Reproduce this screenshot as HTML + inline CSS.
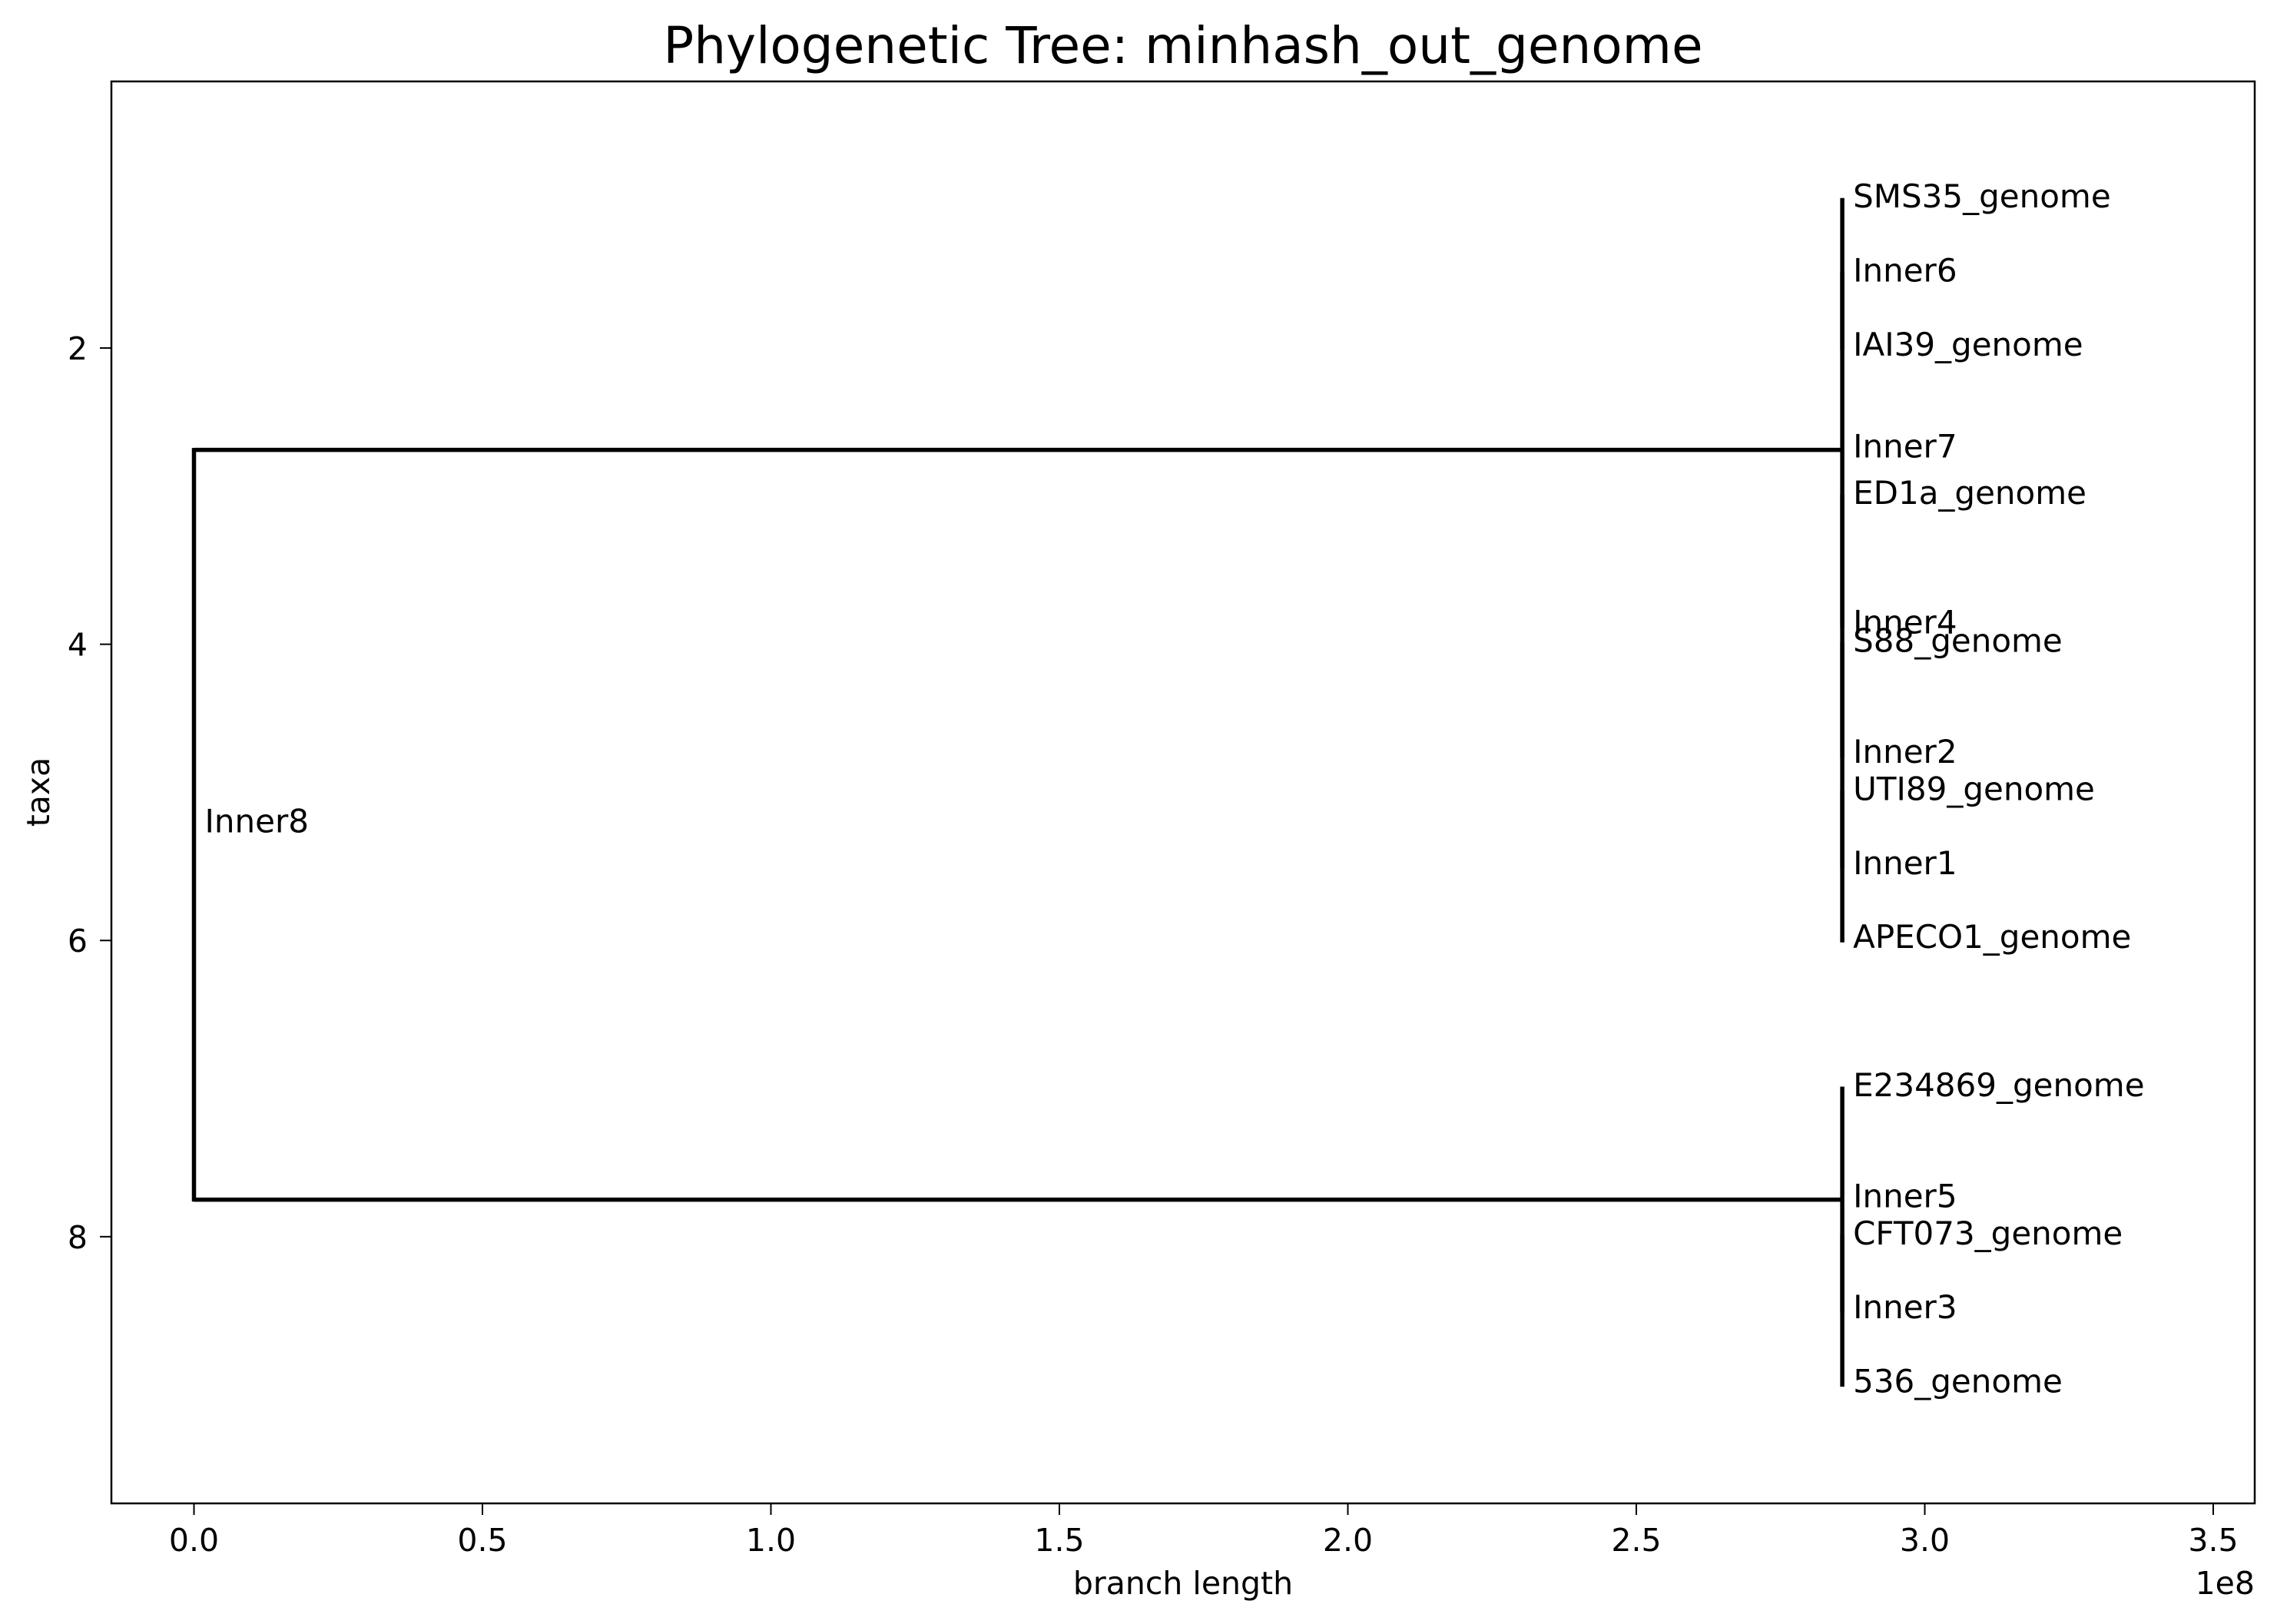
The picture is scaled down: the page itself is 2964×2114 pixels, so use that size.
<!DOCTYPE html>
<html><head><meta charset="utf-8"><style>
html,body{margin:0;padding:0;background:#fff;}
svg{display:block;font-family:"DejaVu Sans","Liberation Sans",sans-serif;}
</style></head><body>
<svg id="chart" width="2964" height="2114" viewBox="0 0 2964 2114" xmlns="http://www.w3.org/2000/svg">
<rect width="2964" height="2114" fill="#fff"/>
<text x="1540" y="82" font-size="66" text-anchor="middle">Phylogenetic Tree: minhash_out_genome</text>
<g id="marks"></g>
<g id="axes"></g>
<rect x="145" y="106" width="2790" height="1851" fill="none" stroke="#000" stroke-width="2.5"/>
<text x="1540" y="2075" font-size="41" text-anchor="middle">branch length</text>
<text x="2935" y="2075" font-size="41" text-anchor="end">1e8</text>
<text x="64" y="1031" font-size="41" text-anchor="middle" transform="rotate(-90 64 1031)">taxa</text>
</svg>
<script>
// data (x in units of 1e8)
const nodeNames = ["SMS35_genome","Inner6","IAI39_genome","Inner7","ED1a_genome","Inner4","S88_genome","Inner2","UTI89_genome","Inner1","APECO1_genome","E234869_genome","Inner5","CFT073_genome","Inner3","536_genome","Inner8"];
const nodeX = [2.857,2.857,2.857,2.857,2.857,2.857,2.857,2.857,2.857,2.857,2.857,2.857,2.857,2.857,2.857,2.857,0];
const nodeY = [1,1.5,2,2.6875,3,3.875,4,4.75,5,5.5,6,7,7.75,8,8.5,9,5.21875];
const nodeParent = [1,3,1,16,5,3,7,5,9,7,9,12,16,14,12,14,-1];
const xTicks = [0,0.5,1.0,1.5,2.0,2.5,3.0,3.5];
const xTickLabels = ["0.0","0.5","1.0","1.5","2.0","2.5","3.0","3.5"];
const yTicks = [2,4,6,8];
const yTickLabels = ["2","4","6","8"];

const X0=252.5, XU=751, Y0=106, YU=192.8;
function sx(v){return X0+v*XU;}
function sy(v){return Y0+(v-0.2)*YU;}
const NS="http://www.w3.org/2000/svg";
function mk(tag,attrs,parent){const e=document.createElementNS(NS,tag);for(const k in attrs)e.setAttribute(k,attrs[k]);parent.appendChild(e);return e;}
const marks=document.getElementById('marks');
const axes=document.getElementById('axes');

for(let i=0;i<nodeNames.length;i++){
  const p=nodeParent[i];
  if(p<0) continue;
  const l=mk('line',{x1:sx(nodeX[p]),x2:sx(nodeX[i]),y1:sy(nodeY[i]),y2:sy(nodeY[i]),stroke:'#000','stroke-width':5.5},marks);
  
  
}
for(let p=0;p<nodeNames.length;p++){
  const kids=[];
  for(let i=0;i<nodeNames.length;i++) if(nodeParent[i]===p) kids.push(nodeY[i]);
  if(!kids.length) continue;
  const v=mk('line',{x1:sx(nodeX[p]),x2:sx(nodeX[p]),y1:sy(Math.min(...kids))-2.5,y2:sy(Math.max(...kids))+2.5,stroke:'#000','stroke-width':5.5},marks);
  
  
}
for(let i=0;i<nodeNames.length;i++){
  const t=mk('text',{x:sx(nodeX[i])+14,y:sy(nodeY[i])+10,'font-size':42},marks);
  t.textContent=nodeNames[i];
  
  
}
for(let i=0;i<xTicks.length;i++){
  const x=sx(xTicks[i]);
  const tk=mk('line',{x1:x,x2:x,y1:1957,y2:1972,stroke:'#000','stroke-width':2},axes);
  
  
  const t=mk('text',{x:x,y:2019,'font-size':41,'text-anchor':'middle'},axes);
  t.textContent=xTickLabels[i];
  
  
}
for(let i=0;i<yTicks.length;i++){
  const y=sy(yTicks[i]);
  const tk=mk('line',{x1:130,x2:145,y1:y,y2:y,stroke:'#000','stroke-width':2},axes);
  
  
  const t=mk('text',{x:114,y:y+15,'font-size':41,'text-anchor':'end'},axes);
  t.textContent=yTickLabels[i];
  
  
}
</script>
</body></html>
